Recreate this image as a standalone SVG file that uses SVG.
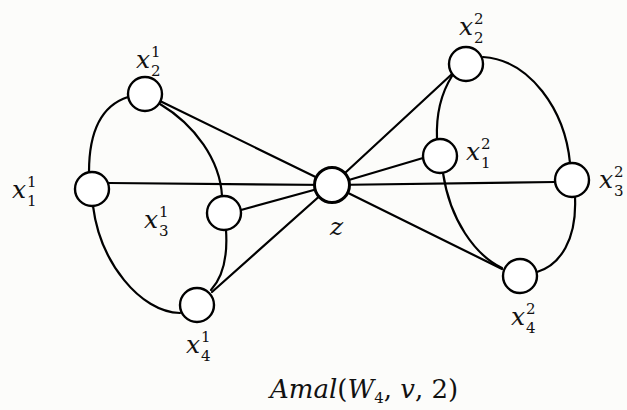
<svg xmlns="http://www.w3.org/2000/svg" width="627" height="410" viewBox="0 0 627 410">
<style>
.e{fill:none;stroke:#000;stroke-width:2.2;stroke-linecap:round}
.n{fill:#fff;stroke:#000;stroke-width:2.4}
text{font-family:'DejaVu Serif','Liberation Serif',serif;fill:#111}
.b{font-style:italic;font-size:25px}
.s{font-size:15px}
.t{font-style:italic;font-size:26px}
.u{font-size:26px}
</style>
<rect width="627" height="410" fill="#fcfcfa"/>
<g id="edges">
<path class="e" d="M128,97 C100,106 89,135 89,172"/>
<path class="e" d="M160,104 C195,125 220,160 222,196"/>
<path class="e" d="M93,206 C100,262 140,312 180,313"/>
<path class="e" d="M226,230 C228,260 222,278 211,290"/>
<line class="e" x1="109" y1="183" x2="332" y2="185"/>
<line class="e" x1="160" y1="101" x2="332" y2="185"/>
<line class="e" x1="241" y1="210" x2="332" y2="185"/>
<line class="e" x1="212" y1="292" x2="332" y2="185"/>
<path class="e" d="M452,76 C440,95 436,115 437,139"/>
<path class="e" d="M483,57 C530,60 565,110 570,163"/>
<path class="e" d="M443,173 C450,220 475,255 502,268"/>
<path class="e" d="M575,197 C577,240 560,265 537,272"/>
<line class="e" x1="452" y1="74" x2="332" y2="185"/>
<line class="e" x1="423" y1="158" x2="332" y2="185"/>
<line class="e" x1="555" y1="182" x2="332" y2="185"/>
<line class="e" x1="502" y1="269" x2="332" y2="185"/>
</g>
<g id="x1_1"><circle class="n" cx="92" cy="189" r="17"/><text class="b" x="12" y="198">x</text><text class="s" x="27" y="187">1</text><text class="s" x="27" y="206">1</text></g>
<g id="x2_1"><circle class="n" cx="145" cy="94" r="17"/><text class="b" x="136" y="68">x</text><text class="s" x="151" y="57">1</text><text class="s" x="151" y="76">2</text></g>
<g id="x3_1"><circle class="n" cx="224" cy="213" r="17"/><text class="b" x="144" y="228">x</text><text class="s" x="159" y="217">1</text><text class="s" x="159" y="236">3</text></g>
<g id="x4_1"><circle class="n" cx="197" cy="305" r="17"/><text class="b" x="186" y="353">x</text><text class="s" x="201" y="342">1</text><text class="s" x="201" y="361">4</text></g>
<g id="z"><circle class="n" cx="332" cy="185" r="17.5" style="stroke-width:3"/><text class="b" x="330" y="235">z</text></g>
<g id="x2_2"><circle class="n" cx="466" cy="64" r="17"/><text class="b" x="459" y="35">x</text><text class="s" x="474" y="24">2</text><text class="s" x="474" y="43">2</text></g>
<g id="x1_2"><circle class="n" cx="440" cy="156" r="17"/><text class="b" x="466" y="160">x</text><text class="s" x="481" y="149">2</text><text class="s" x="481" y="168">1</text></g>
<g id="x3_2"><circle class="n" cx="572" cy="180" r="17"/><text class="b" x="599" y="188">x</text><text class="s" x="614" y="177">2</text><text class="s" x="614" y="196">3</text></g>
<g id="x4_2"><circle class="n" cx="520" cy="276" r="17"/><text class="b" x="511" y="325">x</text><text class="s" x="526" y="314">2</text><text class="s" x="526" y="333">4</text></g>
<g id="caption"><text x="270" y="398"><tspan class="t">Amal</tspan><tspan class="u">(</tspan><tspan class="t">W</tspan><tspan class="s" dy="5">4</tspan><tspan class="u" dy="-5">, </tspan><tspan class="t">v</tspan><tspan class="u">, 2)</tspan></text></g>
</svg>
